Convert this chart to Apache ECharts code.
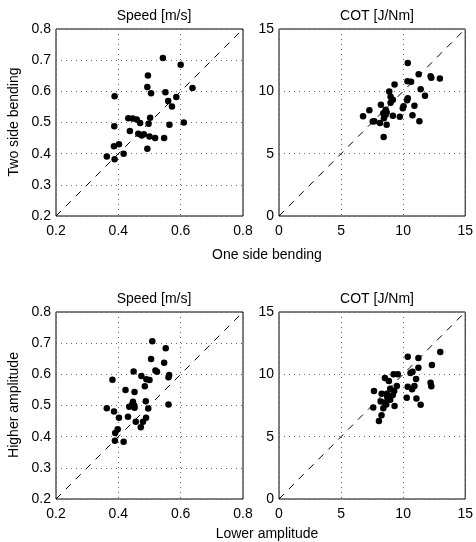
<!DOCTYPE html>
<html>
<head>
<meta charset="utf-8">
<script src="https://cdn.jsdelivr.net/npm/echarts@6/dist/echarts.min.js"></script>
<style>
html, body { margin: 0; padding: 0; background: #fff; }
#main { width: 476px; height: 542px; }
</style>
</head>
<body>
<div id="main"></div>
<script>
// 上左: speed, one side vs two side bending
var speedBendX = [0.543, 0.600, 0.495, 0.493, 0.505, 0.551, 0.638, 0.388, 0.586, 0.560, 0.572, 0.387, 0.610, 0.564,
    0.432, 0.446, 0.459, 0.470, 0.502, 0.497, 0.437, 0.464, 0.475, 0.482, 0.500, 0.518, 0.547, 0.493, 0.402,
    0.386, 0.417, 0.363, 0.388];
var speedBendY = [0.707, 0.685, 0.651, 0.614, 0.594, 0.597, 0.611, 0.584, 0.582, 0.569, 0.551, 0.488, 0.500, 0.493,
    0.514, 0.513, 0.510, 0.498, 0.515, 0.496, 0.473, 0.464, 0.458, 0.462, 0.455, 0.450, 0.450, 0.416, 0.430,
    0.424, 0.400, 0.391, 0.382];

// 上右: COT, bending
var cotBendX = [10.37, 11.25, 12.21, 12.27, 12.96, 10.35, 10.64, 9.31, 11.41, 8.88, 11.76, 8.99, 9.17, 10.37, 10.32,
    8.99, 8.21, 10.03, 10.91, 9.97, 7.28, 8.59, 8.67, 8.40, 8.59, 6.77, 9.17, 9.73, 10.75, 8.45, 7.55, 7.68,
    8.13, 8.67, 11.31, 8.43];
var cotBendY = [12.28, 11.37, 11.21, 11.08, 11.03, 10.81, 10.76, 10.55, 10.17, 9.99, 9.64, 9.56, 9.32, 9.45, 9.29,
    9.08, 8.92, 8.81, 8.84, 8.65, 8.49, 8.52, 8.33, 8.25, 8.12, 8.01, 8.04, 7.96, 8.09, 7.85, 7.59, 7.61,
    7.45, 7.32, 7.61, 6.33];

// 下左: speed, lower vs higher amplitude
var speedAmpX = [0.509, 0.552, 0.505, 0.547, 0.449, 0.519, 0.524, 0.474, 0.381, 0.490, 0.500, 0.563, 0.561, 0.485,
    0.423, 0.452, 0.488, 0.447, 0.445, 0.435, 0.451, 0.452, 0.496, 0.561, 0.363, 0.386, 0.402, 0.431, 0.489,
    0.456, 0.479, 0.472, 0.398, 0.390, 0.389, 0.417];
var speedAmpY = [0.706, 0.684, 0.649, 0.637, 0.609, 0.612, 0.608, 0.595, 0.583, 0.584, 0.582, 0.598, 0.591, 0.562,
    0.550, 0.543, 0.514, 0.512, 0.504, 0.496, 0.500, 0.493, 0.490, 0.503, 0.491, 0.481, 0.461, 0.464, 0.461,
    0.448, 0.448, 0.430, 0.424, 0.412, 0.387, 0.384];

// 下右: COT, amplitude
var cotAmpX = [12.99, 10.37, 11.23, 12.32, 11.23, 10.75, 10.59, 9.23, 9.57, 8.53, 8.85, 11.04, 12.21, 12.27, 9.49,
    10.37, 10.91, 10.72, 8.96, 7.65, 9.28, 8.27, 8.69, 9.17, 10.29, 11.07, 8.19, 8.96, 8.53, 8.64, 9.31,
    11.41, 7.59, 8.40, 8.26, 8.05, 8.72];
var cotAmpY = [11.79, 11.42, 11.31, 10.75, 10.53, 10.21, 10.11, 10.00, 10.00, 9.71, 9.47, 9.63, 9.33, 9.04, 9.06,
    9.01, 9.06, 8.80, 8.85, 8.66, 8.66, 8.45, 8.45, 8.34, 8.13, 8.07, 7.83, 7.97, 7.75, 7.59, 7.46,
    7.57, 7.33, 7.27, 6.71, 6.26, 8.18];

// 对角线
var speedRange = [0.2, 0.8];
var cotRange = [0, 15];

var fontFamily = 'Liberation Sans, Arial, sans-serif';

function pairs(xs, ys) {
    var out = [];
    for (var i = 0; i < xs.length; i++) {
        out.push([xs[i], ys[i]]);
    }
    return out;
}

function makeAxis(type, idx, range, interval) {
    return {
        type: 'value',
        gridIndex: idx,
        min: range[0],
        max: range[1],
        interval: interval,
        axisLine: { show: false },
        axisTick: { show: false },
        axisLabel: {
            color: '#000',
            fontSize: 14,
            fontFamily: fontFamily,
            margin: type == 'x' ? 8 : 5,
            formatter: function(v) { return interval < 1 ? v.toFixed(1) : String(v); }
        },
        splitLine: {
            show: true,
            lineStyle: { color: '#666', type: [1, 4], width: 1 }
        }
    };
}

var grids = [
    { left: 56, top: 29, width: 187, height: 187 },
    { left: 279, top: 29, width: 187, height: 187 },
    { left: 56, top: 312, width: 187, height: 187 },
    { left: 279, top: 312, width: 187, height: 187 }
];
for (var g = 0; g < grids.length; g++) {
    grids[g].show = true;
    grids[g].borderColor = '#000';
    grids[g].borderWidth = 1;
    grids[g].backgroundColor = '#fff';
}

var ranges = [speedRange, cotRange, speedRange, cotRange];
var intervals = [0.2, 5, 0.2, 5];
var yIntervals = [0.1, 5, 0.1, 5];
var sets = [
    pairs(speedBendX, speedBendY),
    pairs(cotBendX, cotBendY),
    pairs(speedAmpX, speedAmpY),
    pairs(cotAmpX, cotAmpY)
];

var xAxes = [], yAxes = [], series = [];
for (var k = 0; k < 4; k++) {
    xAxes.push(makeAxis('x', k, ranges[k], intervals[k]));
    yAxes.push(makeAxis('y', k, ranges[k], yIntervals[k]));
    series.push({
        type: 'line',
        xAxisIndex: k,
        yAxisIndex: k,
        data: [[ranges[k][0], ranges[k][0]], [ranges[k][1], ranges[k][1]]],
        symbol: 'none',
        silent: true,
        lineStyle: { color: '#000', width: 1, type: [7, 7] },
        z: 2
    });
    series.push({
        type: 'scatter',
        xAxisIndex: k,
        yAxisIndex: k,
        data: sets[k],
        symbolSize: 6.5,
        itemStyle: { color: '#000', opacity: 1 },
        z: 3
    });
}

var titleStyle = { color: '#000', fontSize: 14, fontWeight: 'normal', fontFamily: fontFamily };

var chart = echarts.init(document.getElementById('main'));
chart.setOption({
    animation: false,
    backgroundColor: '#fff',
    title: [
        { text: 'Speed [m/s]', left: 149, top: 4, textAlign: 'center', textStyle: titleStyle },
        { text: 'COT [J/Nm]', left: 372, top: 4, textAlign: 'center', textStyle: titleStyle },
        { text: 'Speed [m/s]', left: 149, top: 287, textAlign: 'center', textStyle: titleStyle },
        { text: 'COT [J/Nm]', left: 372, top: 287, textAlign: 'center', textStyle: titleStyle },
        { text: 'One side bending', left: 262, top: 243, textAlign: 'center', textStyle: titleStyle },
        { text: 'Lower amplitude', left: 262, top: 522, textAlign: 'center', textStyle: titleStyle }
    ],
    graphic: [
        {
            type: 'text', x: 14, y: 122, rotation: Math.PI / 2,
            style: { text: 'Two side bending', fill: '#000', font: '14px ' + fontFamily, align: 'center', verticalAlign: 'middle' }
        },
        {
            type: 'text', x: 14, y: 405, rotation: Math.PI / 2,
            style: { text: 'Higher amplitude', fill: '#000', font: '14px ' + fontFamily, align: 'center', verticalAlign: 'middle' }
        }
    ],
    grid: grids,
    xAxis: xAxes,
    yAxis: yAxes,
    series: series
});
</script>
</body>
</html>
